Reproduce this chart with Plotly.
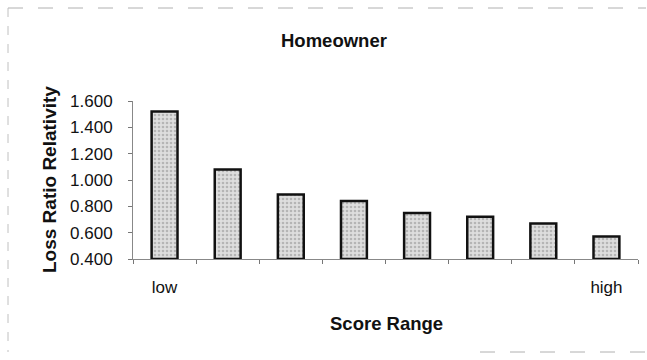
import plotly.graph_objects as go

# Loss ratio relativity by score band, lowest score band first
score_bands = ["1", "2", "3", "4", "5", "6", "7", "8"]
relativity = [1.52, 1.08, 0.89, 0.84, 0.75, 0.72, 0.67, 0.57]
band_labels = ["low", "", "", "", "", "", "", "high"]
y_ticks = [0.4, 0.6, 0.8, 1.0, 1.2, 1.4, 1.6]
y_tick_text = ["0.400", "0.600", "0.800", "1.000", "1.200", "1.400", "1.600"]

FONT = "Liberation Sans, Arial, sans-serif"
W, H = 647, 360
L, R, T, B = 133, 9, 101, 101
plot_w = W - L - R
plot_h = H - T - B


def px_to_paper_x(px):
    return (px - L) / plot_w


def px_to_paper_y(py):
    return (H - B - py) / plot_h


fig = go.Figure()
fig.add_trace(go.Bar(
    x=score_bands,
    y=[v - 0.4 for v in relativity],
    base=0.4,
    marker=dict(
        color="#d0d0d0",
        line=dict(color="#111111", width=2.5),
        pattern=dict(shape=".", fgcolor="#8c8c8c", bgcolor="#dedede",
                     size=4, solidity=0.35),
    ),
    hovertext=[f"{v:.3f}" for v in relativity],
    hoverinfo="text",
))

fig.update_layout(
    width=W, height=H,
    margin=dict(l=L, r=R, t=T, b=B, pad=0),
    paper_bgcolor="white",
    plot_bgcolor="white",
    showlegend=False,
    bargap=0.59,
    font=dict(family=FONT, size=17, color="#111111"),
    xaxis=dict(
        type="category",
        tickmode="array",
        tickvals=score_bands,
        ticktext=band_labels,
        tickson="boundaries",
        ticks="outside",
        ticklen=4,
        tickcolor="#777777",
        ticklabelstandoff=13,
        showline=True,
        linecolor="#888888",
        linewidth=1,
        showgrid=False,
        zeroline=False,
        tickfont=dict(family=FONT, size=17, color="#111111"),
    ),
    yaxis=dict(
        range=[0.4, 1.6],
        tickmode="array",
        tickvals=y_ticks,
        ticktext=y_tick_text,
        ticks="outside",
        ticklen=4,
        tickcolor="#777777",
        ticklabelstandoff=12,
        showline=True,
        linecolor="#888888",
        linewidth=1,
        showgrid=False,
        zeroline=False,
        tickfont=dict(family=FONT, size=17, color="#111111"),
    ),
    annotations=[
        dict(text="<b>Homeowner</b>", xref="paper", yref="paper",
             x=px_to_paper_x(334), y=px_to_paper_y(41),
             xanchor="center", yanchor="middle", showarrow=False,
             font=dict(family=FONT, size=18.5, color="#111111")),
        dict(text="<b>Score Range</b>", xref="paper", yref="paper",
             x=px_to_paper_x(386), y=px_to_paper_y(323),
             xanchor="center", yanchor="middle", showarrow=False,
             font=dict(family=FONT, size=18.5, color="#111111")),
        dict(text="<b>Loss Ratio Relativity</b>", xref="paper", yref="paper",
             x=px_to_paper_x(49), y=px_to_paper_y(180), textangle=-90,
             xanchor="center", yanchor="middle", showarrow=False,
             font=dict(family=FONT, size=19, color="#111111")),
    ],
    shapes=[
        # chart area frame
        dict(type="line", xref="paper", yref="paper",
             x0=px_to_paper_x(8), x1=px_to_paper_x(646),
             y0=px_to_paper_y(8), y1=px_to_paper_y(8),
             line=dict(color="#b0b0b0", width=1, dash="longdash")),
        dict(type="line", xref="paper", yref="paper",
             x0=px_to_paper_x(8), x1=px_to_paper_x(8),
             y0=px_to_paper_y(8), y1=px_to_paper_y(352),
             line=dict(color="#c0c0c0", width=1, dash="dash")),
        dict(type="line", xref="paper", yref="paper",
             x0=px_to_paper_x(480), x1=px_to_paper_x(646),
             y0=px_to_paper_y(352), y1=px_to_paper_y(352),
             line=dict(color="#b0b0b0", width=1, dash="longdash")),
    ],
)

fig.write_html("out.html")
